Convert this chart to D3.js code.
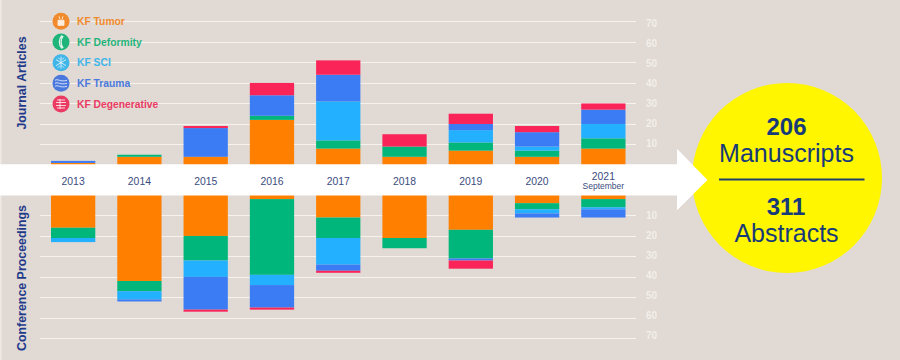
<!DOCTYPE html>
<html><head><meta charset="utf-8">
<script src="https://cdn.jsdelivr.net/npm/d3@7/dist/d3.min.js"></script>
<style>html,body{margin:0;padding:0;background:#e0d9d4}svg{display:block}text{font-family:"Liberation Sans",Arial,sans-serif}</style>
</head><body><svg id="c" width="900" height="360"></svg>
<script>
const years = ["2013","2014","2015","2016","2017","2018","2019","2020","2021"];
const seriesNames = ["KF Tumor","KF Deformity","KF SCI","KF Trauma","KF Degenerative"];
const seriesColors = ["#ff7f00","#00b67a","#22b0ff","#3b7cf5","#fb2458"];
const legendColors = ["#f08a2c","#1fb47a","#3fb5e8","#4a78dc","#ea3a62"];
const journalTumor = [1,4,4,22,8,4,7,4,8];
const journalDeformity = [0,1,0,2,4,5,4,3,5];
const journalSCI = [0,0,0,0,19,0,6,2,7];
const journalTrauma = [1,0,14,10,13,0,3,7,7];
const journalDegenerative = [0,0,1,6,7,6,5,3,3];
const confTumor = [16,42,20,2,11,21,17,4,2];
const confDeformity = [5,5,12,37,10,5,14,3,4];
const confSCI = [2,4,8,5,13,0,0,2,1];
const confTrauma = [0,1,16,11,3,0,1,2,4];
const confDegenerative = [0,0,1,1,1,0,4,0,0];
const gridTicks = [10,20,30,40,50,60,70];
const journalSeries = [journalTumor,journalDeformity,journalSCI,journalTrauma,journalDegenerative];
const confSeries = [confTumor,confDeformity,confSCI,confTrauma,confDegenerative];

const navy = "#1f3a8a", yearInk = "#3a4c80", circleInk = "#173a78";
const svg = d3.select("#c");
svg.append("rect").attr("width",900).attr("height",360).attr("fill","#e0d9d4");
svg.append("rect").attr("width",1.5).attr("height",360).attr("fill","#efeae6");

const x = d3.scaleBand().domain(years).range([51,625.5]).paddingInner(0.332).paddingOuter(0);
const yTop = d3.scaleLinear().domain([0,70]).range([165,21.4]);
const yBot = d3.scaleLinear().domain([0,70]).range([195,338.3]);
const labelTop = d3.scaleLinear().domain([0,70]).range([163.5,23.4]);
const labelBot = d3.scaleLinear().domain([0,70]).range([195.8,335]);

function grid(scale,labels){
  const g = svg.append("g");
  g.selectAll("line").data(gridTicks).join("line")
    .attr("x1",40).attr("x2",636)
    .attr("y1",d=>Math.round(scale(d))+0.5).attr("y2",d=>Math.round(scale(d))+0.5)
    .attr("stroke","#f6f3ef").attr("stroke-width",1);
  g.selectAll("text").data(gridTicks).join("text")
    .attr("x",651.5).attr("y",d=>labels(d)).attr("dy","0.36em")
    .attr("text-anchor","middle").attr("font-size",10).attr("font-weight","bold")
    .attr("fill","#f3efe9").text(d=>d);
}
grid(yTop,labelTop); grid(yBot,labelBot);

function stackBars(data,scale){
  const rows = years.map((y,i)=>{const r={year:y};data.forEach((s,k)=>r[k]=s[i]);return r;});
  const layers = d3.stack().keys(d3.range(data.length))(rows);
  svg.append("g").selectAll("g").data(layers).join("g")
    .attr("fill",d=>seriesColors[d.key])
    .selectAll("rect").data(d=>d).join("rect")
    .attr("x",d=>x(d.data.year)).attr("width",x.bandwidth())
    .attr("y",d=>Math.min(scale(d[0]),scale(d[1])))
    .attr("height",d=>Math.abs(scale(d[1])-scale(d[0])));
}
stackBars(journalSeries,yTop);
stackBars(confSeries,yBot);

// arrow band
svg.append("path").attr("fill","#ffffff")
  .attr("d",d3.line()([[0,164.3],[677,164.3],[677,149],[707.5,180],[677,210],[677,195.6],[0,195.6]])+"Z");

// years
const yrs = svg.append("g").attr("text-anchor","middle").attr("fill",yearInk);
yrs.selectAll("text").data(years).join("text")
  .attr("x",d=>x(d)+x.bandwidth()/2)
  .attr("y",d=>d==="2021"?180:185)
  .attr("font-size",10.4).text(d=>d);
yrs.append("text").datum("2021").attr("x",d=>x(d)+x.bandwidth()/2).attr("y",188.7)
  .attr("font-size",8.5).text("September");

// axis titles
function vtitle(t,cy){
  svg.append("text").attr("transform",`translate(25.5,${cy}) rotate(-90)`)
    .attr("text-anchor","middle").attr("font-size",12.4).attr("font-weight","bold")
    .attr("fill",navy).text(t);
}
vtitle("Journal Articles",83);
vtitle("Conference Proceedings",278);

// legend
const legendY = d3.scalePoint().domain(seriesNames).range([21.3,104]);
const leg = svg.append("g").selectAll("g").data(seriesNames).join("g")
  .attr("transform",d=>`translate(61,${legendY(d)})`);
leg.append("circle").attr("r",8.5).attr("fill",(d,i)=>legendColors[i]);
leg.append("text").attr("x",16).attr("dy","0.36em").attr("font-size",10.3).attr("font-weight","bold")
  .attr("fill",(d,i)=>legendColors[i]).text(d=>d);
const icons = [
  "M-3,-1H3V4H-3Z M-2,-5L-1,-2 M2,-5L1,-2",
  "M1,-6.5C-2.5,-3 -2.5,3 1,6.5 M2.2,-6C-0.6,-3 -0.6,3 2.2,6",
  "M0,-6V6 M-5,-3L5,3 M-5,3L5,-3 M-3,-5L-1,-3 M3,-5L1,-3 M-3,5L-1,3 M3,5L1,3",
  "M-6,-3C-3,-5 -1,-1 6,-3 M-6,0C-3,-2 -1,2 6,0 M-6,3C-3,1 -1,5 6,3",
  "M-4,-4H4 M-5,-1.5H5 M-5,1.5H5 M-4,4H4 M-1,-5V5"
];
leg.append("path").attr("d",(d,i)=>icons[i]).attr("fill",(d,i)=>i===0?"#fff":"none")
  .attr("stroke","#fff").attr("stroke-width",(d,i)=>i===1?1.3:0.9).attr("opacity",0.85);

// summary circle
svg.append("circle").attr("cx",787).attr("cy",178).attr("r",95).attr("fill","#fff600");
svg.append("path").attr("fill","#ffffff")
  .attr("d",d3.line()([[677,164.3],[677,149],[707.5,180],[677,210],[677,195.6]])+"Z");
const sum = svg.append("g").attr("text-anchor","middle").attr("fill",circleInk);
sum.append("text").attr("x",786.5).attr("y",135).attr("font-size",24).attr("font-weight","bold").text("206");
sum.append("text").attr("x",786.5).attr("y",161.7).attr("font-size",25).text("Manuscripts");
sum.append("text").attr("x",786).attr("y",215).attr("font-size",24).attr("font-weight","bold").text("311");
sum.append("text").attr("x",786.5).attr("y",241.7).attr("font-size",25).text("Abstracts");
svg.append("line").attr("x1",719).attr("x2",864.5).attr("y1",179.5).attr("y2",179.5)
  .attr("stroke","#1f3f6e").attr("stroke-width",2);
</script></body></html>
